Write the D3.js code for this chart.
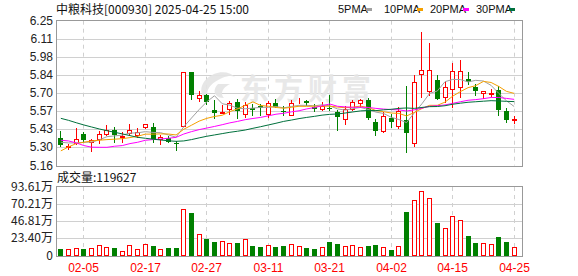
<!DOCTYPE html>
<html>
<head>
<meta charset="utf-8">
<script src="https://cdn.jsdelivr.net/npm/d3@7"></script>
<style>
	body { margin: 0; background: #fff; }
	svg { display: block; }
	text { font-family: "Liberation Sans", Arial, sans-serif; font-size: 12px; }
	.cjk { font-family: "Noto Sans CJK SC", sans-serif; }
</style>
</head>
<body>
<script>
(function(){

	//trading days shown in the chart
	var dates = ["01-23","01-24","01-27","02-05","02-06","02-07","02-10","02-11","02-12","02-13",
		"02-14","02-17","02-18","02-19","02-20","02-21","02-24","02-25","02-26","02-27",
		"02-28","03-03","03-04","03-05","03-06","03-07","03-10","03-11","03-12","03-13",
		"03-14","03-17","03-18","03-19","03-20","03-21","03-24","03-25","03-26","03-27",
		"03-28","03-31","04-01","04-02","04-03","04-07","04-08","04-09","04-10","04-11",
		"04-14","04-15","04-16","04-17","04-18","04-21","04-22","04-23","04-24","04-25"];
	var tickDates = ["02-05","02-17","02-27","03-11","03-21","04-02","04-15","04-25"];

	//daily prices
	var open = [5.365,5.303,5.327,5.397,5.337,5.362,5.397,5.427,5.372,5.402,
		5.39,5.452,5.448,5.357,5.365,5.328,5.46,5.862,5.67,5.69,
		5.578,5.558,5.583,5.64,5.548,5.595,5.607,5.548,5.628,5.572,
		5.543,5.636,5.646,5.603,5.583,5.592,5.563,5.508,5.583,5.633,
		5.653,5.485,5.422,5.515,5.46,5.503,5.327,5.847,5.723,5.804,
		5.674,5.736,5.753,5.809,5.749,5.703,5.70,5.728,5.57,5.505];
	var high = [5.42,5.32,5.44,5.415,5.362,5.42,5.463,5.45,5.41,5.47,
		5.445,5.475,5.478,5.39,5.385,5.345,5.862,5.862,5.72,5.70,
		5.653,5.615,5.645,5.66,5.64,5.625,5.625,5.645,5.66,5.61,
		5.65,5.668,5.653,5.625,5.638,5.688,5.58,5.605,5.653,5.663,
		5.668,5.508,5.56,5.545,5.60,5.758,5.841,6.163,6.08,5.841,
		5.79,5.93,5.954,5.866,5.775,5.723,5.736,5.76,5.595,5.535];
	var low = [5.307,5.285,5.32,5.337,5.27,5.33,5.39,5.34,5.335,5.40,
		5.377,5.44,5.335,5.32,5.335,5.28,5.46,5.658,5.645,5.623,
		5.515,5.553,5.55,5.52,5.525,5.54,5.54,5.525,5.60,5.54,
		5.537,5.628,5.615,5.573,5.578,5.578,5.43,5.47,5.578,5.60,
		5.508,5.393,5.415,5.45,5.44,5.259,5.309,5.678,5.69,5.66,
		5.64,5.603,5.678,5.775,5.69,5.67,5.686,5.54,5.49,5.483];
	var close = [5.312,5.307,5.357,5.352,5.352,5.397,5.427,5.387,5.38,5.427,
		5.41,5.47,5.357,5.372,5.34,5.325,5.862,5.688,5.688,5.636,
		5.553,5.562,5.633,5.57,5.615,5.578,5.595,5.628,5.603,5.568,
		5.628,5.64,5.628,5.583,5.608,5.588,5.523,5.583,5.638,5.653,
		5.515,5.42,5.535,5.49,5.57,5.402,5.786,5.879,5.879,5.66,
		5.749,5.874,5.874,5.787,5.723,5.723,5.706,5.578,5.503,5.51];

	//moving averages as drawn
	var ma5 = [5.335,5.33,5.33,5.335,5.336,5.353,5.377,5.383,5.389,5.404,
		5.406,5.415,5.409,5.407,5.39,5.373,5.451,5.517,5.581,5.64,
		5.685,5.625,5.614,5.591,5.587,5.592,5.598,5.597,5.604,5.594,
		5.604,5.613,5.613,5.609,5.617,5.609,5.586,5.577,5.588,5.597,
		5.582,5.562,5.552,5.523,5.506,5.483,5.556,5.625,5.703,5.721,
		5.791,5.808,5.807,5.789,5.801,5.796,5.763,5.703,5.647,5.604];
	var ma10 = [5.27,5.30,5.325,5.335,5.345,5.35,5.355,5.358,5.362,5.370,
		5.380,5.396,5.396,5.398,5.397,5.390,5.433,5.463,5.494,5.515,
		5.529,5.538,5.566,5.586,5.613,5.639,5.612,5.606,5.597,5.591,
		5.598,5.606,5.605,5.607,5.606,5.607,5.600,5.595,5.599,5.607,
		5.596,5.574,5.565,5.555,5.552,5.533,5.559,5.589,5.613,5.613,
		5.637,5.682,5.716,5.746,5.761,5.793,5.785,5.755,5.718,5.703];
	var ma20 = [5.35,5.345,5.33,5.31,5.298,5.297,5.297,5.305,5.31,5.325,
		5.335,5.35,5.355,5.36,5.365,5.372,5.397,5.415,5.43,5.442,
		5.454,5.467,5.481,5.492,5.505,5.514,5.522,5.534,5.546,5.553,
		5.564,5.572,5.586,5.596,5.610,5.623,5.606,5.601,5.598,5.599,
		5.597,5.590,5.585,5.581,5.579,5.570,5.579,5.592,5.606,5.610,
		5.616,5.628,5.640,5.651,5.656,5.663,5.672,5.672,5.665,5.658];
	var ma30 = [5.515,5.50,5.482,5.465,5.45,5.435,5.422,5.41,5.398,5.385,
		5.372,5.365,5.358,5.352,5.346,5.342,5.345,5.355,5.368,5.38,
		5.39,5.40,5.41,5.418,5.427,5.44,5.452,5.465,5.478,5.492,
		5.502,5.513,5.522,5.530,5.539,5.545,5.548,5.555,5.563,5.571,
		5.574,5.573,5.579,5.583,5.590,5.593,5.590,5.597,5.603,5.604,
		5.610,5.621,5.629,5.636,5.640,5.644,5.648,5.646,5.643,5.641];

	//daily volume (shares)
	var volume = [86000,82000,96000,86000,96000,137000,114000,100000,68000,137000,
		86000,151000,128000,86000,100000,100000,635000,580000,288000,224000,
		183000,196000,164000,169000,219000,128000,114000,137000,114000,128000,
		151000,128000,100000,86000,114000,183000,155000,128000,137000,114000,
		128000,141000,114000,73000,128000,594000,758000,881000,781000,443000,
		374000,539000,484000,265000,169000,169000,155000,256000,183000,119627];

	//axis labels
	var priceTicks = ["6.25","6.11","5.98","5.84","5.70","5.57","5.43","5.30","5.16"];
	var volTicks = ["93.61万","70.21万","46.81万","23.40万","0"];
	var maNames = ["5PMA","10PMA","20PMA","30PMA"];

	var priceMin = 5.16, priceMax = 6.25, volMax = 936100;

	var width = 578, height = 276,
		left = 56, right = 522,
		priceTop = 20.7, priceBottom = 165.5,
		volTop = 187, volBottom = 255.5;

	var red = "#ff0000", green = "#008000", gridColor = "#d0d0d0", borderColor = "#999";
	var maColors = ["#a0a0a0", "#f5a000", "#ff00ff", "#00703c"];

	var svg = d3.select("body").append("svg")
		.attr("width", width)
		.attr("height", height);

	//scales
	var x = d3.scaleBand()
		.domain(d3.range(dates.length))
		.range([57, 518]);
	var y = d3.scaleLinear()
		.domain([priceMin, priceMax])
		.range([priceBottom, priceTop]);
	var yv = d3.scaleLinear()
		.domain([0, volMax])
		.range([volBottom, volTop]);

	function cx(i){
		return Math.floor(x(i) + x.bandwidth() / 2) + 0.5;
	}
	function crisp(v){
		return Math.round(v) + 0.5;
	}

	//horizontal grid lines, price panel
	var priceTickVals = priceTicks.map(function(d, i){
		return priceMax - i * (priceMax - priceMin) / (priceTicks.length - 1);
	});
	svg.selectAll(".pgrid")
		.data(priceTickVals.slice(1, -1))
		.enter()
		.append("line")
		.attr("x1", left).attr("x2", right)
		.attr("y1", function(d){ return crisp(y(d)); })
		.attr("y2", function(d){ return crisp(y(d)); })
		.attr("stroke", gridColor);

	var volTickVals = volTicks.map(function(d, i){
		return volMax - i * volMax / (volTicks.length - 1);
	});
	svg.selectAll(".vgrid")
		.data(volTickVals.slice(1, -1))
		.enter()
		.append("line")
		.attr("x1", left).attr("x2", right)
		.attr("y1", function(d){ return crisp(yv(d)); })
		.attr("y2", function(d){ return crisp(yv(d)); })
		.attr("stroke", gridColor);

	//vertical dashed lines at the labelled dates
	var tickIdx = tickDates.map(function(d){ return dates.indexOf(d); });
	[[priceTop, priceBottom], [volTop, volBottom]].forEach(function(r){
		svg.selectAll(null)
			.data(tickIdx)
			.enter()
			.append("line")
			.attr("x1", function(i){ return cx(i); })
			.attr("x2", function(i){ return cx(i); })
			.attr("y1", r[0]).attr("y2", r[1])
			.attr("stroke", gridColor)
			.attr("stroke-dasharray", "4,4");
	});

	//watermark
	var wm = svg.append("g").attr("opacity", 0.9);
	wm.append("path")
		.attr("d", "M214,74 C200,80 196,96 210,101 C204,93 208,84 222,78 C230,75 234,76 236,78 C231,72 222,71 214,74 Z M218,84 C212,90 214,98 224,98 C220,94 222,88 230,84 Z")
		.attr("fill", "#e4e4e4");
	wm.append("text")
		.attr("class", "cjk")
		.attr("x", 240).attr("y", 100)
		.attr("fill", "#e6e6e6")
		.style("font-size", "29px")
		.style("font-weight", "bold")
		.style("letter-spacing", "5px")
		.text("东方财富");

	//panel borders
	svg.append("rect")
		.attr("x", left + 0.5).attr("y", crisp(priceTop) - 1)
		.attr("width", right - left).attr("height", crisp(priceBottom) - crisp(priceTop) + 1)
		.attr("fill", "none").attr("stroke", borderColor);
	svg.append("rect")
		.attr("x", left + 0.5).attr("y", crisp(volTop) - 1)
		.attr("width", right - left).attr("height", crisp(volBottom) - crisp(volTop) + 1)
		.attr("fill", "none").attr("stroke", borderColor);

	//candles
	var idx = d3.range(dates.length);
	function isUp(i){ return close[i] >= open[i]; }

	var candles = svg.append("g").selectAll("g")
		.data(idx)
		.enter()
		.append("g");

	candles.append("line")
		.attr("x1", cx).attr("x2", cx)
		.attr("y1", function(i){ return Math.round(y(high[i])); })
		.attr("y2", function(i){ return Math.round(y(low[i])) + 1; })
		.attr("stroke", function(i){ return isUp(i) ? red : green; });

	candles.append("rect")
		.attr("x", function(i){ return isUp(i) ? cx(i) - 2 : cx(i) - 2.5; })
		.attr("y", function(i){
			var t = Math.round(y(Math.max(open[i], close[i])));
			return isUp(i) ? t + 0.5 : t;
		})
		.attr("width", function(i){ return isUp(i) ? 4 : 5; })
		.attr("height", function(i){
			var t = Math.round(y(Math.max(open[i], close[i]))),
				b = Math.round(y(Math.min(open[i], close[i])));
			return isUp(i) ? Math.max(b - t, 0) : Math.max(b - t, 1);
		})
		.attr("fill", function(i){ return isUp(i) ? "#fff" : green; })
		.attr("stroke", function(i){ return isUp(i) ? red : "none"; });

	//moving average lines
	var maLine = d3.line()
		.x(function(d, i){ return x(i) + x.bandwidth() / 2; })
		.y(function(d){ return y(d); });

	[ma5, ma10, ma20, ma30].forEach(function(series, k){
		svg.append("path")
			.datum(series)
			.attr("d", maLine)
			.attr("fill", "none")
			.attr("stroke", maColors[k])
			.attr("stroke-width", 1);
	});

	//volume bars
	svg.append("g").selectAll("rect")
		.data(idx)
		.enter()
		.append("rect")
		.attr("x", function(i){ return isUp(i) ? cx(i) - 2 : cx(i) - 2.5; })
		.attr("y", function(i){
			var t = Math.round(yv(volume[i]));
			return isUp(i) ? t + 0.5 : t;
		})
		.attr("width", function(i){ return isUp(i) ? 4 : 5; })
		.attr("height", function(i){
			var t = Math.round(yv(volume[i]));
			return Math.round(volBottom) - t - (isUp(i) ? 1 : 0);
		})
		.attr("fill", function(i){ return isUp(i) ? "#fff" : green; })
		.attr("stroke", function(i){ return isUp(i) ? red : "none"; });

	//y axis labels
	svg.selectAll(".plab")
		.data(priceTicks)
		.enter()
		.append("text")
		.attr("x", 53)
		.attr("y", function(d, i){ return y(priceTickVals[i]) + 4; })
		.attr("text-anchor", "end")
		.attr("fill", "#222")
		.text(function(d){ return d; });

	svg.selectAll(".vlab")
		.data(volTicks)
		.enter()
		.append("text")
		.attr("class", "cjk")
		.attr("x", 53)
		.attr("y", function(d, i){ return yv(volTickVals[i]) + 4; })
		.attr("text-anchor", "end")
		.attr("fill", "#222")
		.text(function(d){ return d; });

	//date labels
	svg.selectAll(".xlab")
		.data(tickDates)
		.enter()
		.append("text")
		.attr("x", function(d){ return cx(dates.indexOf(d)); })
		.attr("y", 272)
		.attr("text-anchor", "middle")
		.attr("fill", red)
		.text(function(d){ return d; });

	//titles
	svg.append("text")
		.attr("class", "cjk")
		.attr("x", 56).attr("y", 14)
		.attr("fill", "#111")
		.text("中粮科技[000930] 2025-04-25 15:00");

	svg.append("text")
		.attr("class", "cjk")
		.attr("x", 57).attr("y", 182)
		.attr("fill", "#111")
		.text("成交量:" + volume[volume.length - 1]);

	//legend
	var legend = svg.append("g").selectAll("g")
		.data(maNames)
		.enter()
		.append("g")
		.attr("transform", function(d, i){ return "translate(" + (338 + i * 46) + ",0)"; });
	legend.append("text")
		.attr("y", 13)
		.style("font-size", "11px")
		.attr("fill", "#111")
		.text(function(d){ return d; });
	legend.append("rect")
		.attr("x", function(d){ return d.length > 4 ? 33 : 28; })
		.attr("y", 8)
		.attr("width", 6).attr("height", 3)
		.attr("fill", function(d, i){ return maColors[i]; });

})();
</script>
</body>
</html>
